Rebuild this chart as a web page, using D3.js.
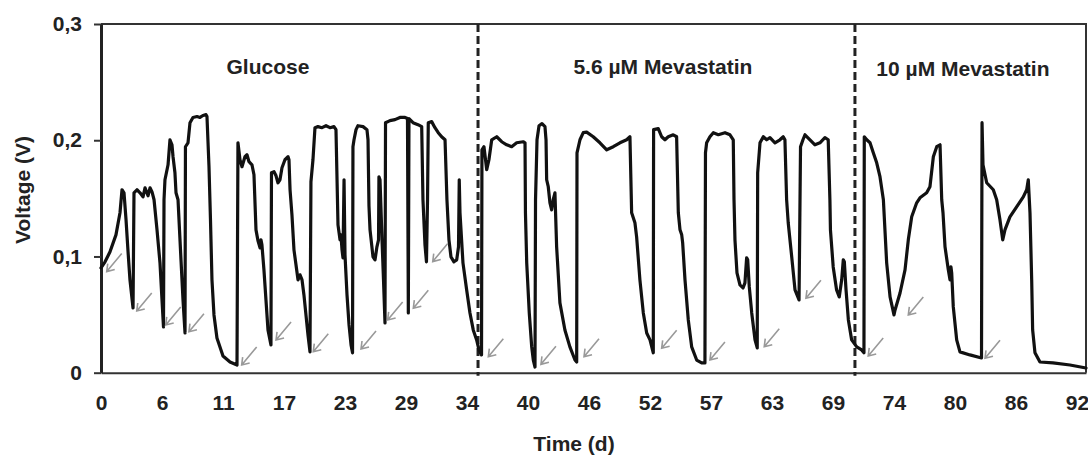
<!DOCTYPE html>
<html>
<head>
<meta charset="utf-8">
<script src="https://cdn.jsdelivr.net/npm/d3@7"></script>
<style>
  body { margin: 0; background: #fff; }
  text { font-family: "Liberation Sans", Arial, sans-serif; font-weight: bold; fill: #222; }
</style>
</head>
<body>
<script>
// time in days, voltage in V
var timeDays = [
  0, 0.38, 0.85, 1.41, 1.79, 1.98, 2.17, 2.36, 2.55, 2.73, 3.02,
  3.11, 3.39, 3.68, 3.96, 4.15, 4.43, 4.62, 4.81, 5.00, 5.28, 5.56, 5.75, 5.89,
  5.94, 6.03, 6.32, 6.50, 6.69, 6.79, 6.97, 7.07, 7.26, 7.54, 7.73, 7.92,
  7.96, 8.20, 8.39, 8.67, 9.05, 9.33, 9.61, 9.90, 9.99, 10.18, 10.32, 10.46, 10.65, 10.93, 11.50, 12.16, 12.82,
  12.91, 13.10, 13.29, 13.57, 13.76, 13.95, 14.23, 14.42, 14.61, 14.80, 14.99, 15.08, 15.17, 15.36, 15.55, 15.74, 16.02,
  16.07, 16.31, 16.50, 16.68, 16.87, 17.06, 17.34, 17.63, 17.72, 17.82, 18.00, 18.19, 18.38, 18.57, 18.76, 18.95, 19.13, 19.32, 19.51, 19.70,
  19.79, 19.98, 20.17, 20.45, 20.83, 21.21, 21.58, 21.96, 22.15, 22.25, 22.34, 22.53, 22.62, 22.72, 22.81, 22.91, 23.00, 23.19, 23.38, 23.57, 23.71,
  23.75, 23.85, 24.04, 24.22, 24.70, 25.07, 25.17, 25.26, 25.36, 25.64, 25.83, 26.01, 26.16, 26.20, 26.30, 26.49, 26.63, 26.77,
  26.82, 27.24, 27.71, 28.18, 28.66, 28.89, 28.97, 29.03, 29.41, 29.88, 30.23, 30.35, 30.54, 30.68, 30.78, 30.85, 31.17, 31.48, 31.79, 32.11, 32.43,
  32.61, 32.80, 32.99, 33.27, 33.53, 33.70, 33.77, 33.84, 34.12, 34.47, 34.78, 35.09, 35.41, 35.63, 35.87,
  35.91, 36.10, 36.36, 36.57, 36.83, 37.30, 37.77, 38.24, 38.71, 39.18, 39.80, 39.97, 40.01, 40.13, 40.37, 40.60, 40.75, 40.91,
  40.96, 41.10, 41.29, 41.57, 41.85, 41.95, 42.01, 42.16, 42.32, 42.48, 42.63, 42.79, 42.95, 43.26, 43.73, 44.20, 44.68, 44.84,
  44.87, 45.15, 45.46, 45.78, 46.40, 47.03, 47.67, 48.29, 48.92, 49.55, 49.86, 50.02, 50.33, 50.49, 50.80, 51.12, 51.44, 51.75, 52.06,
  52.09, 52.53, 52.85, 53.16, 53.47, 53.94, 54.26, 54.42, 54.58, 54.74, 54.83, 55.05, 55.36, 55.68, 56.15, 56.62, 56.93,
  56.98, 57.09, 57.40, 57.72, 58.19, 58.82, 59.29, 59.60, 59.67, 59.76, 59.95, 60.23, 60.52, 60.70, 60.86, 60.96, 61.11, 61.34, 61.65, 61.86,
  61.90, 62.12, 62.43, 62.75, 63.06, 63.53, 64.00, 64.31, 64.47, 64.63, 64.78, 65.11, 65.42, 65.80,
  65.94, 66.17, 66.36, 66.83, 67.30, 67.77, 68.24, 68.55, 68.71, 68.76, 69.02, 69.34, 69.59, 69.82, 69.97, 70.07, 70.23, 70.45, 70.76, 71.24, 71.70, 71.92,
  71.95, 72.18, 72.49, 72.80, 73.12, 73.43, 73.75, 74.06, 74.38, 74.75, 74.85, 75.32, 75.79, 76.10, 76.42, 76.89, 77.20, 77.83, 78.14, 78.46, 78.78, 79.09,
  79.25, 79.37, 79.56, 79.87, 80.03, 80.12, 80.19, 80.34, 80.66, 80.97, 81.91, 83.00,
  83.05, 83.14, 83.49, 84.11, 84.43, 84.74, 85.00, 85.21, 85.68, 86.31, 86.94, 87.26, 87.41, 87.57, 87.73, 87.82, 88.04, 88.51, 89.74, 91.34, 92.85
];
var voltage = [
  0.0902, 0.0954, 0.104, 0.1186, 0.1376, 0.1574, 0.1548, 0.1315, 0.104, 0.0799, 0.0557,
  0.1548, 0.1574, 0.1548, 0.1513, 0.1591, 0.1522, 0.1591, 0.1556, 0.1488, 0.1229, 0.0945, 0.0626, 0.0394,
  0.1488, 0.166, 0.1789, 0.2004, 0.1961, 0.1858, 0.172, 0.1548, 0.1488, 0.0971, 0.0626, 0.0342,
  0.1944, 0.1978, 0.2151, 0.2196, 0.2204, 0.2196, 0.2213, 0.222, 0.2204, 0.1772, 0.1315, 0.0799, 0.0497, 0.0299, 0.0144, 0.0092, 0.0066,
  0.1978, 0.1832, 0.1772, 0.1858, 0.1875, 0.1815, 0.1789, 0.1703, 0.1229, 0.1134, 0.1074, 0.1143, 0.11, 0.0885, 0.0626, 0.0368, 0.0239,
  0.172, 0.1729, 0.1694, 0.1634, 0.166, 0.1763, 0.1832, 0.1858, 0.1832, 0.1574, 0.1358, 0.1057, 0.0928, 0.0799, 0.0842, 0.0799, 0.0669, 0.0497, 0.0325, 0.0179,
  0.1643, 0.1832, 0.2108, 0.2117, 0.2108, 0.2125, 0.2108, 0.2117, 0.2091, 0.166, 0.1272, 0.1143, 0.1186, 0.1057, 0.0988, 0.166, 0.1014, 0.0669, 0.0411, 0.0239, 0.0171,
  0.1944, 0.2004, 0.2091, 0.2125, 0.2117, 0.2091, 0.2004, 0.1436, 0.1229, 0.0997, 0.0971, 0.1083, 0.1143, 0.1686, 0.166, 0.1143, 0.0799, 0.0428,
  0.2151, 0.2169, 0.2177, 0.2196, 0.2196, 0.2187, 0.0514, 0.2187, 0.2151, 0.2134, 0.2117, 0.1488, 0.11, 0.0954, 0.1488, 0.2151, 0.216, 0.2108, 0.2065, 0.203, 0.2004,
  0.1488, 0.1143, 0.0997, 0.0954, 0.0971, 0.1083, 0.166, 0.1376, 0.0945, 0.0712, 0.0514, 0.0368, 0.0282, 0.0196, 0.0153,
  0.1918, 0.1944, 0.1746, 0.1832, 0.2004, 0.203, 0.1987, 0.1961, 0.1944, 0.1978, 0.1987, 0.1978, 0.1376, 0.0945, 0.0514, 0.0222, 0.0109, 0.0049,
  0.1488, 0.2004, 0.2125, 0.2143, 0.2117, 0.2004, 0.166, 0.16, 0.1462, 0.1401, 0.1488, 0.1548, 0.1083, 0.0601, 0.0368, 0.0222, 0.0109, 0.0092,
  0.1892, 0.2004, 0.2065, 0.207, 0.203, 0.1978, 0.1918, 0.1944, 0.1978, 0.2004, 0.203, 0.1376, 0.129, 0.1169, 0.0799, 0.0514, 0.0342, 0.0282, 0.0171,
  0.2091, 0.21, 0.203, 0.2004, 0.203, 0.2047, 0.203, 0.1376, 0.1229, 0.1186, 0.1117, 0.0799, 0.0454, 0.0222, 0.0109, 0.0084, 0.0084,
  0.1892, 0.1978, 0.203, 0.2065, 0.2047, 0.2065, 0.2047, 0.2004, 0.1488, 0.1143, 0.0859, 0.0755, 0.0729, 0.0773, 0.0988, 0.0971, 0.0738, 0.0514, 0.0282, 0.0213,
  0.172, 0.1978, 0.203, 0.2004, 0.2022, 0.1978, 0.2004, 0.203, 0.2004, 0.1488, 0.129, 0.0997, 0.0712, 0.0626,
  0.1944, 0.2004, 0.2047, 0.2004, 0.1961, 0.1978, 0.2022, 0.2004, 0.1488, 0.1229, 0.091, 0.0712, 0.0652, 0.0799, 0.0971, 0.0954, 0.0712, 0.0454, 0.0282, 0.0222, 0.0196, 0.0171,
  0.203, 0.2004, 0.1978, 0.1892, 0.1806, 0.1686, 0.1488, 0.0945, 0.0652, 0.0497, 0.054, 0.0686, 0.0885, 0.1143, 0.1341, 0.1462, 0.1505, 0.1548, 0.16, 0.1858, 0.1944, 0.1961,
  0.1488, 0.1376, 0.1083, 0.0885, 0.0799, 0.091, 0.0859, 0.0566, 0.0282, 0.0179, 0.0153, 0.0127,
  0.2151, 0.1789, 0.1634, 0.1574, 0.1488, 0.1315, 0.1143, 0.1229, 0.1341, 0.1427, 0.1513, 0.1574, 0.166, 0.1376, 0.0799, 0.0368, 0.0171, 0.0092, 0.0084, 0.0066, 0.004
];

// grey arrows: tip position (day, V)
var arrowDays = [0.54, 3.37, 6.10, 8.29, 13.26, 16.50, 20.01, 24.51, 27.02, 29.44, 31.27,
  36.51, 41.47, 45.53, 52.85, 57.40, 62.52, 66.45, 72.32, 76.10, 83.33];
var arrowVolts = [0.087, 0.0531, 0.0411, 0.0353, 0.0066, 0.0282, 0.0181, 0.0204, 0.0454, 0.0555, 0.0956,
  0.0138, 0.0072, 0.0138, 0.021, 0.0109, 0.0224, 0.0641, 0.0144, 0.0497, 0.0124];

var xTickValues = [0, 5.75, 11.5, 17.25, 23, 28.75, 34.5, 40.25, 46, 51.75, 57.5, 63.25, 69, 74.75, 80.5, 86.25, 92];
var xTickLabels = ["0", "6", "11", "17", "23", "29", "34", "40", "46", "52", "57", "63", "69", "74", "80", "86", "92"];
var yTickValues = [0, 0.1, 0.2, 0.3];
var yTickLabels = ["0", "0,1", "0,2", "0,3"];

var phaseBreaks = [35.54, 71.07];
var phaseNames = ["Glucose", "5.6 \u00b5M Mevastatin", "10 \u00b5M Mevastatin"];
var phaseLabelDays = [15.74, 52.97, 81.25];
var phaseLabelVolts = [0.2573, 0.2573, 0.2556];

var w = 1088;
var h = 459;
var plotLeft = 101, plotRight = 1086, plotTop = 24, plotBottom = 372.7;

var x = d3.scaleLinear().domain([0, 92.85]).range([plotLeft, plotRight]);
var y = d3.scaleLinear().domain([0, 0.3]).range([plotBottom, plotTop]);

var svg = d3.select("body")
  .append("svg")
  .attr("width", w)
  .attr("height", h);

// frame (top + right)
svg.append("path")
  .attr("d", "M" + plotLeft + "," + plotTop + "H" + plotRight + "V" + plotBottom)
  .attr("fill", "none")
  .attr("stroke", "#333")
  .attr("stroke-width", 2);

// x axis: line only, labels below
var xAxis = d3.axisBottom(x)
  .tickValues(xTickValues)
  .tickFormat(function (d, i) { return xTickLabels[i]; })
  .tickSize(0)
  .tickPadding(22);
var gx = svg.append("g")
  .attr("transform", "translate(0," + plotBottom + ")")
  .call(xAxis);
gx.select(".domain").attr("stroke", "#333").attr("stroke-width", 2);
gx.selectAll("text").attr("font-size", 21).attr("fill", "#222").attr("font-family", null);

var yAxis = d3.axisLeft(y)
  .tickValues(yTickValues)
  .tickFormat(function (d, i) { return yTickLabels[i]; })
  .tickSizeInner(7)
  .tickSizeOuter(0)
  .tickPadding(12);
var gy = svg.append("g")
  .attr("transform", "translate(" + plotLeft + ",0)")
  .call(yAxis);
gy.select(".domain").attr("stroke", "#222").attr("stroke-width", 3);
gy.selectAll(".tick line").attr("stroke", "#333").attr("stroke-width", 2);
gy.selectAll("text").attr("font-size", 21).attr("fill", "#222").attr("font-family", null);

// phase separators
svg.selectAll(".sep")
  .data(phaseBreaks)
  .enter()
  .append("line")
  .attr("class", "sep")
  .attr("x1", function (d) { return x(d); })
  .attr("x2", function (d) { return x(d); })
  .attr("y1", plotTop)
  .attr("y2", plotBottom + 3)
  .attr("stroke", "#222")
  .attr("stroke-width", 3)
  .attr("stroke-dasharray", "8,4");

// trace
var pts = timeDays.map(function (t, i) { return [t, voltage[i]]; });
var line = d3.line()
  .x(function (d) { return x(d[0]); })
  .y(function (d) { return y(d[1]); });
svg.append("path")
  .datum(pts)
  .attr("d", line)
  .attr("fill", "none")
  .attr("stroke", "#111")
  .attr("stroke-width", 3.2)
  .attr("stroke-linejoin", "round")
  .attr("stroke-linecap", "round");

// arrows
var arrows = arrowDays.map(function (t, i) { return [t, arrowVolts[i]]; });
svg.selectAll(".arrow")
  .data(arrows)
  .enter()
  .append("path")
  .attr("class", "arrow")
  .attr("d", function (d) {
    var tx = x(d[0]), ty = y(d[1]);
    return "M" + (tx + 15) + "," + (ty - 18) + "L" + tx + "," + ty +
      "M" + (tx + 1) + "," + (ty - 8) + "L" + tx + "," + ty + "L" + (tx + 8) + "," + (ty - 2);
  })
  .attr("fill", "none")
  .attr("stroke", "#999")
  .attr("stroke-width", 1.6);

// phase labels
svg.selectAll(".phase")
  .data(phaseNames)
  .enter()
  .append("text")
  .attr("class", "phase")
  .attr("x", function (d, i) { return x(phaseLabelDays[i]); })
  .attr("y", function (d, i) { return y(phaseLabelVolts[i]); })
  .attr("text-anchor", "middle")
  .attr("font-size", 21)
  .text(function (d) { return d; });

// axis titles
svg.append("text")
  .attr("x", 574)
  .attr("y", 451)
  .attr("text-anchor", "middle")
  .attr("font-size", 21)
  .text("Time (d)");

svg.append("text")
  .attr("transform", "translate(30,190) rotate(-90)")
  .attr("text-anchor", "middle")
  .attr("font-size", 21)
  .text("Voltage (V)");
</script>
</body>
</html>
